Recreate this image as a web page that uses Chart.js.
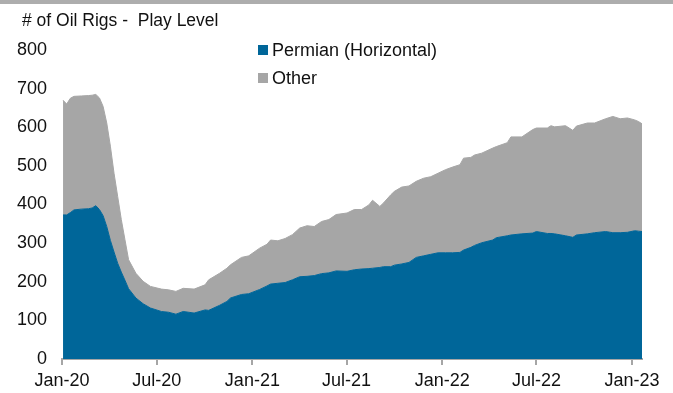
<!DOCTYPE html>
<html>
<head>
<meta charset="utf-8">
<script src="https://cdn.jsdelivr.net/npm/chart.js@4.4.1/dist/chart.umd.min.js"></script>
<style>
  html, body { margin: 0; padding: 0; background: #ffffff; }
  #wrap { position: relative; width: 673px; height: 393px; overflow: hidden;
          font-family: "Liberation Sans", Arial, sans-serif; }
  #topRule { position: absolute; left: 0; top: 0; width: 673px; height: 4px; background: #ADADAD; }
  #title { position: absolute; left: 22px; top: 10px; font-size: 17.5px; color: #111111; white-space: pre; }
  #c { position: absolute; left: 0; top: 0; }
</style>
</head>
<body>
<div id="wrap">
  <div id="topRule"></div>
  <canvas id="c" width="673" height="393"></canvas>
  <div id="title"># of Oil Rigs -  Play Level</div>
</div>
<script>
// Weekly oil rig counts (week ending dates)
const weekEnding = [
  '2020-01-03','2020-01-10','2020-01-17','2020-01-24','2020-02-07','2020-02-21','2020-02-28',
  '2020-03-06','2020-03-13','2020-03-20','2020-03-27','2020-04-03','2020-04-10','2020-04-17',
  '2020-04-24','2020-05-01','2020-05-08','2020-05-22','2020-06-05','2020-06-19','2020-07-10',
  '2020-07-24','2020-08-07','2020-08-21','2020-09-11','2020-10-02','2020-10-09','2020-10-30',
  '2020-11-13','2020-11-20','2020-12-11','2020-12-25','2021-01-15','2021-01-29','2021-02-05',
  '2021-02-19','2021-03-05','2021-03-19','2021-04-02','2021-04-16','2021-04-30','2021-05-14',
  '2021-05-28','2021-06-11','2021-07-02','2021-07-16','2021-07-30','2021-08-13','2021-08-20',
  '2021-09-03','2021-09-10','2021-09-24','2021-10-01','2021-10-15','2021-10-29','2021-11-12',
  '2021-11-26','2021-12-10','2021-12-24','2022-01-07','2022-01-21','2022-02-04','2022-02-11',
  '2022-02-25','2022-03-04','2022-03-18','2022-04-08','2022-04-15','2022-05-06','2022-05-13',
  '2022-06-03','2022-06-24','2022-07-01','2022-07-22','2022-07-29','2022-08-05','2022-08-26',
  '2022-09-09','2022-09-16','2022-10-07','2022-10-21','2022-11-11','2022-11-25','2022-12-09',
  '2022-12-23','2023-01-06','2023-01-13','2023-01-20'
];

// Total oil rigs
const totalRigs = [
  670, 660, 675, 680, 681, 682, 683,
  685, 676, 654, 611, 551, 481, 421,
  361, 309, 257, 222, 201, 188, 181,
  179, 175, 183, 181, 192, 205, 222,
  235, 244, 263, 267, 287, 297, 308,
  306, 312, 322, 339, 345, 343, 356,
  361, 374, 378, 387, 387, 399, 411,
  395, 404, 425, 434, 445, 448, 460,
  468, 472, 481, 490, 497, 503, 520,
  522, 528, 533, 546, 550, 560, 575,
  575, 594, 598, 598, 604, 601, 604,
  592, 603, 611, 611, 622, 628, 622,
  624, 619, 615, 609
];

// Permian (Horizontal) oil rigs
const permianRigs = [
  373, 373, 379, 386, 388, 389, 391,
  397, 387, 371, 343, 307, 277, 248,
  225, 204, 182, 158, 143, 132, 123,
  121, 116, 123, 119, 127, 126, 139,
  149, 158, 167, 169, 180, 189, 194,
  196, 198, 205, 213, 214, 216, 221,
  223, 228, 227, 231, 233, 234, 235,
  237, 239, 239, 243, 246, 250, 263,
  267, 271, 275, 275, 275, 276, 282,
  289, 294, 301, 308, 314, 319, 321,
  324, 326, 330, 325, 325, 324, 319,
  315, 321, 324, 327, 330, 327, 327,
  328, 332, 331, 330
];

// Axis labels and the month each one marks
const tickLabels = ['Jan-20', 'Jul-20', 'Jan-21', 'Jul-21', 'Jan-22', 'Jul-22', 'Jan-23'];
const tickDates  = ['2020-01-01', '2020-07-01', '2021-01-01', '2021-07-01', '2022-01-01', '2022-07-01', '2023-01-01'];

const DAY = 86400000;
const origin = Date.UTC(2020, 0, 1);
function dayOffset(s) {
  const [y, m, d] = s.split('-').map(Number);
  return Math.round((Date.UTC(y, m - 1, d) - origin) / DAY);
}

const xDays = weekEnding.map(dayOffset);
const otherRigs = totalRigs.map((t, i) => t - permianRigs[i]);
const tickDays = tickDates.map(dayOffset);

const FONT = '"Liberation Sans", Arial, sans-serif';
const BLUE = '#006699';
const GREY = '#A6A6A6';

// Two-row legend drawn inside the plot area
const boxLegend = {
  id: 'boxLegend',
  afterDraw(chart) {
    const ctx = chart.ctx;
    ctx.save();
    ctx.font = '18px ' + FONT;
    ctx.textBaseline = 'middle';
    ctx.textAlign = 'left';
    chart.data.datasets.forEach((ds, i) => {
      const y = 50 + i * 28;
      ctx.fillStyle = ds.backgroundColor;
      ctx.fillRect(258, y - 5, 10, 10);
      ctx.fillStyle = '#111111';
      ctx.fillText(ds.label, 272, y + 1);
    });
    ctx.restore();
  }
};

new Chart(document.getElementById('c'), {
  type: 'line',
  data: {
    datasets: [
      {
        label: 'Permian (Horizontal)',
        data: xDays.map((x, i) => ({ x, y: permianRigs[i] })),
        backgroundColor: BLUE,
        borderColor: BLUE,
        borderWidth: 1,
        fill: 'origin',
        pointRadius: 0,
        tension: 0
      },
      {
        label: 'Other',
        data: xDays.map((x, i) => ({ x, y: otherRigs[i] })),
        backgroundColor: GREY,
        borderColor: GREY,
        borderWidth: 1,
        fill: '-1',
        pointRadius: 0,
        tension: 0
      }
    ]
  },
  options: {
    responsive: false,
    animation: false,
    devicePixelRatio: 1,
    layout: { padding: { top: 50, right: 31, left: 0, bottom: 0 } },
    plugins: {
      legend: { display: false },
      tooltip: { enabled: false }
    },
    scales: {
      x: {
        type: 'linear',
        min: 0,
        max: xDays[xDays.length - 1],
        afterBuildTicks(scale) {
          scale.ticks = tickDays.map(v => ({ value: v }));
        },
        afterFit(scale) { scale.height = 34; },
        ticks: {
          autoSkip: false,
          maxRotation: 0,
          padding: 5,
          color: '#111111',
          font: { family: FONT, size: 18 },
          callback: (v, i) => tickLabels[i]
        },
        grid: {
          display: true,
          drawOnChartArea: false,
          drawTicks: true,
          tickLength: 6,
          color: '#A6A6A6',
          lineWidth: 2
        },
        border: { display: true, color: '#A6A6A6', width: 2 }
      },
      y: {
        stacked: true,
        min: 0,
        max: 800,
        afterFit(scale) { scale.width = 62; },
        ticks: {
          stepSize: 100,
          padding: 15,
          color: '#111111',
          font: { family: FONT, size: 18 }
        },
        grid: { display: false, drawTicks: false },
        border: { display: false }
      }
    }
  },
  plugins: [boxLegend]
});
</script>
</body>
</html>
